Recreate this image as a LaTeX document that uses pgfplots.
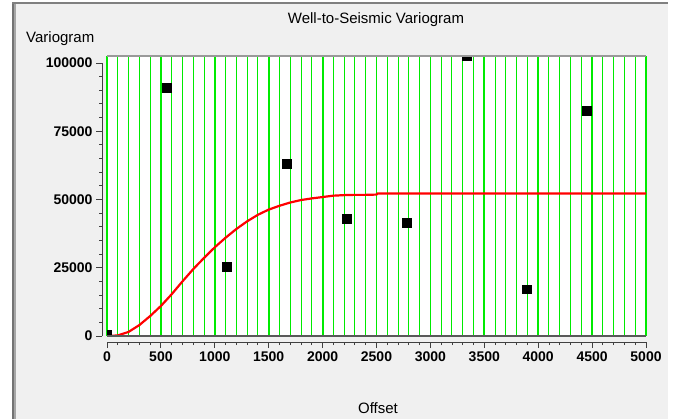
\documentclass[border=0pt]{standalone}
\usepackage{fontspec}
\setmainfont{Liberation Sans}
\usepackage{pgfplots}
\pgfplotsset{compat=1.18}
\definecolor{gridgreen}{RGB}{0,235,0}
\definecolor{panel}{RGB}{240,240,240}
\begin{document}
\begin{tikzpicture}[x=1pt,y=1pt]
% window background
\fill[white] (0,0) rectangle (676,-419);
\fill[panel] (12,-2) rectangle (668,-419);
\fill[black!55] (12,-2) rectangle (14,-419);
\fill[black!35] (14,-2) rectangle (16,-419);
\fill[black!50] (12,-2) rectangle (668,-4.5);

% plot area with grid and data
\begin{axis}[
  at={(107pt,-336pt)}, anchor=south west,
  scale only axis, width=539pt, height=280pt,
  xmin=0, xmax=5000, ymin=0, ymax=102560,
  axis background/.style={fill=white},
  axis line style={draw=none},
  xtick={0,500,...,5000}, minor x tick num=4,
  ytick=\empty, xticklabels={},
  major tick length=0pt, minor tick length=0pt,
  xmajorgrids, xminorgrids,
  major grid style={gridgreen, line width=1.8pt},
  minor grid style={gridgreen, line width=1pt},
  clip marker paths=true,
]
\addplot[red, line width=2.2pt] coordinates {
(0,0) (100,200) (200,1500) (300,4000) (400,7300) (500,11000)
(600,15300) (700,20000) (800,24500) (900,28600) (1000,32500)
(1100,36000) (1200,39200) (1300,42000) (1400,44400) (1500,46300)
(1600,47700) (1700,48900) (1800,49800) (1900,50400) (2000,50900)
(2100,51400) (2200,51600) (2300,51700) (2400,51700) (2500,51800)
(2510,52200) (5000,52200)
};
\addplot[only marks, mark=square*, mark size=4.3pt,
  mark options={draw=black, fill=black, line width=0pt}] coordinates {
(0,300) (556,90800) (1113,25300) (1669,63000) (2226,42900)
(2782,41300) (3339,102500) (3895,17100) (4452,82400) (5008,59800)
};
\draw[black!40, line width=2pt] (rel axis cs:0,1) -- (rel axis cs:1,1);
\draw[black!65, line width=2pt] (rel axis cs:0,0) -- (rel axis cs:1,0);
\end{axis}

% detached y axis
\begin{axis}[
  at={(102pt,-336pt)}, anchor=south west,
  scale only axis, width=5pt, height=273pt,
  xmin=0, xmax=1, ymin=0, ymax=100000,
  axis y line=left, axis x line=none,
  axis line style={-, black!75, line width=0.9pt},
  ytick={0,25000,50000,75000,100000},
  yticklabels={0,25000,50000,75000,100000},
  minor y tick num=4,
  tick align=outside, major tick length=6pt, minor tick length=3pt,
  tick style={black!75, line width=0.9pt},
  scaled y ticks=false,
  yticklabel style={font=\bfseries\fontsize{14}{16}\selectfont},
]
\end{axis}

% detached x axis
\begin{axis}[
  at={(107pt,-342pt)}, anchor=south west,
  scale only axis, width=539pt, height=5pt,
  xmin=0, xmax=5000, ymin=0, ymax=1,
  axis x line=bottom, axis y line=none,
  axis line style={-, black!75, line width=0.9pt},
  xtick={0,500,...,5000},
  xticklabels={0,500,1000,1500,2000,2500,3000,3500,4000,4500,5000},
  minor x tick num=4,
  tick align=outside, major tick length=6pt, minor tick length=3pt,
  tick style={black!75, line width=0.9pt},
  scaled x ticks=false,
  xticklabel style={font=\bfseries\fontsize{14}{16}\selectfont},
]
\end{axis}

\node[anchor=base, font=\fontsize{15}{17}\selectfont] at (376,-23.5) {Well-to-Seismic Variogram};
\node[anchor=base west, inner sep=0pt, font=\fontsize{15}{17}\selectfont] at (26,-43) {Variogram};
\node[anchor=base, font=\fontsize{15}{17}\selectfont] at (378,-413.5) {Offset};
\end{tikzpicture}
\end{document}
